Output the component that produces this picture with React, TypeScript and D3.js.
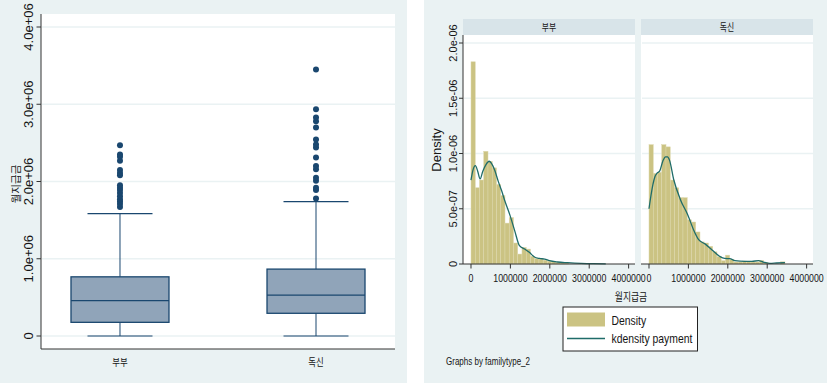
import React from 'react';
import * as d3 from 'd3';

// ---------- data ----------
const families = ['부부', '독신'];
const boxQ1 = [177000, 294000];
const boxMedian = [459000, 528000];
const boxQ3 = [766000, 866000];
const whiskerLow = [0, 0];
const whiskerHigh = [1584000, 1740000];
const outliersCouple = [1670000, 1710000, 1740000, 1770000, 1810000, 1850000, 1890000, 1920000, 1950000, 2080000, 2110000, 2150000, 2270000, 2320000, 2350000, 2470000];
const outliersSingle = [1780000, 1890000, 1920000, 2010000, 2050000, 2160000, 2200000, 2310000, 2440000, 2480000, 2545000, 2700000, 2780000, 2830000, 2935000, 3450000];
const boxTicks = [0, 1000000, 2000000, 3000000, 4000000];
const boxTickLabels = ['0', '1.0e+06', '2.0e+06', '3.0e+06', '4.0e+06'];

// histogram densities in units of 1e-6, bins of width histBinWidth starting at 0
const histBinWidth = 107800;
const histCouple = [1.83, 0.69, 0.76, 1.02, 0.93, 0.87, 0.72, 0.62, 0.37, 0.42, 0.19, 0.09, 0.15, 0.135, 0.07, 0.05, 0.045, 0.035, 0.025, 0.02, 0.015, 0.01, 0.008];
const histSingle = [1.08, 0.82, 0.83, 1.08, 1.06, 0.76, 0.69, 0.6, 0.6, 0.4, 0.38, 0.29, 0.2, 0.19, 0.16, 0.11, 0.066, 0.03, 0.08, 0.042, 0.018, 0.018, 0.027, 0.024, 0.018, 0.018, 0.033, 0.015, 0, 0, 0, 0.02];

// kernel density (x in won, y in units of 1e-6)
const kdeXCouple = [0, 50000, 110000, 170000, 230000, 300000, 380000, 460000, 520000, 600000, 690000, 780000, 860000, 990000, 1110000, 1230000, 1360000, 1480000, 1610000, 1740000, 1870000, 1990000, 2200000, 2450000, 2790000, 3100000, 3420000];
const kdeYCouple = [0.76, 0.85, 0.89, 0.84, 0.77, 0.84, 0.9, 0.93, 0.91, 0.85, 0.75, 0.66, 0.57, 0.44, 0.3, 0.166, 0.136, 0.106, 0.063, 0.05, 0.045, 0.03, 0.018, 0.012, 0.006, 0.003, 0.002];
const kdeXSingle = [0, 50000, 100000, 150000, 200000, 270000, 350000, 420000, 470000, 520000, 630000, 800000, 990000, 1130000, 1260000, 1430000, 1600000, 1790000, 1920000, 2050000, 2180000, 2440000, 2610000, 2780000, 2900000, 3070000, 3240000, 3450000];
const kdeYSingle = [0.5, 0.62, 0.72, 0.79, 0.82, 0.84, 0.93, 0.97, 0.97, 0.94, 0.76, 0.58, 0.44, 0.31, 0.22, 0.18, 0.127, 0.07, 0.05, 0.048, 0.03, 0.024, 0.024, 0.03, 0.018, 0.006, 0.009, 0.012];

const paymentTicks = [0, 1000000, 2000000, 3000000, 4000000];
const paymentTickLabels = ['0', '1000000', '2000000', '3000000', '4000000'];
const densityTicks = [0, 0.5, 1.0, 1.5, 2.0];
const densityTickLabels = ['0', '5.0e-07', '1.0e-06', '1.5e-06', '2.0e-06'];
const legendLabels = ['Density', 'kdensity payment'];

// ---------- styles ----------
const FONT = "'Liberation Sans', Arial, 'Noto Sans CJK KR', sans-serif";
const BG = '#eaf2f3';
const NAVY = '#1a476f';
const BOXFILL = '#90a4b9';
const KHAKI = '#cbc383';
const KHAKI_LINE = '#ddd8ad';
const TEAL = '#1f6c69';
const AXIS = '#333333';
const TXT = '#151515';

function HText({ x, y, size, children, anchor = 'middle', sx = 0.8 }: any) {
  return (
    <text transform={`translate(${x},${y}) scale(${sx},1)`} textAnchor={anchor} fontSize={size} fontFamily={FONT} fill={TXT}>
      {children}
    </text>
  );
}
function VText({ x, y, size, children }: any) {
  return (
    <text transform={`translate(${x},${y}) rotate(-90)`} textAnchor="middle" fontSize={size} fontFamily={FONT} fill={TXT}>
      {children}
    </text>
  );
}

export default function App() {
  // ---------- left: box plot ----------
  const L = { x0: 41, x1: 395, y0: 14, y1: 349 };
  const yBox = d3.scaleLinear().domain([0, 4000000]).range([336, 27]);
  const xBox = d3.scalePoint<string>().domain(families).range([L.x0, L.x1]).padding(0.403);
  const outliers = [outliersCouple, outliersSingle];
  const boxHalf = 49;
  const capHalf = 32.5;

  // ---------- right: histograms ----------
  const facetW = 172;
  const facetX = [463, 641];
  const R = { y0: 35, y1: 264, stripTop: 19 };
  const xh = d3.scaleLinear().domain([-203000, 4162000]).range([0, facetW]);
  const yh = d3.scaleLinear().domain([0, 2]).range([264, 43]);
  const facets = [
    { label: families[0], hist: histCouple, kx: kdeXCouple, ky: kdeYCouple },
    { label: families[1], hist: histSingle, kx: kdeXSingle, ky: kdeYSingle },
  ];

  return (
    <svg width={827} height={385} style={{ position: 'absolute', left: 0, top: 0, background: '#fff' }}>
      {/* backgrounds */}
      <rect x={0} y={0} width={407} height={383} fill={BG} />
      <rect x={424} y={0} width={403} height={383} fill={BG} />

      {/* ===== Left box plot ===== */}
      <rect x={L.x0} y={L.y0} width={L.x1 - L.x0} height={L.y1 - L.y0} fill="#fff" />
      {boxTicks.map((t) => (
        <line key={'g' + t} x1={L.x0 + 1} x2={L.x1} y1={yBox(t)} y2={yBox(t)} stroke={BG} strokeWidth={1.3} />
      ))}
      {families.map((f, i) => {
        const cx = xBox(f)!;
        return (
          <g key={f}>
            <line x1={cx} x2={cx} y1={yBox(boxQ3[i])} y2={yBox(whiskerHigh[i])} stroke={NAVY} strokeWidth={1} />
            <line x1={cx} x2={cx} y1={yBox(boxQ1[i])} y2={yBox(whiskerLow[i])} stroke={NAVY} strokeWidth={1} />
            <line x1={cx - capHalf} x2={cx + capHalf} y1={yBox(whiskerHigh[i])} y2={yBox(whiskerHigh[i])} stroke={NAVY} strokeWidth={1.2} />
            <line x1={cx - capHalf} x2={cx + capHalf} y1={yBox(whiskerLow[i])} y2={yBox(whiskerLow[i])} stroke={NAVY} strokeWidth={1.2} />
            <rect x={cx - boxHalf} y={yBox(boxQ3[i])} width={boxHalf * 2} height={yBox(boxQ1[i]) - yBox(boxQ3[i])} fill={BOXFILL} stroke={NAVY} strokeWidth={1.3} />
            <line x1={cx - boxHalf} x2={cx + boxHalf} y1={yBox(boxMedian[i])} y2={yBox(boxMedian[i])} stroke={NAVY} strokeWidth={1.3} />
            {outliers[i].map((v, j) => (
              <circle key={j} cx={cx} cy={yBox(v)} r={3} fill={NAVY} />
            ))}
            <HText x={cx} y={366} size={10.5}>{f}</HText>
          </g>
        );
      })}
      <line x1={L.x0} x2={L.x0} y1={L.y0} y2={L.y1} stroke={AXIS} strokeWidth={1} />
      <line x1={L.x0} x2={L.x1} y1={L.y1} y2={L.y1} stroke={AXIS} strokeWidth={1} />
      {boxTicks.map((t, i) => (
        <g key={'t' + t}>
          <line x1={L.x0 - 4.5} x2={L.x0} y1={yBox(t)} y2={yBox(t)} stroke={AXIS} strokeWidth={1} />
          <VText x={33} y={yBox(t)} size={13}>{boxTickLabels[i]}</VText>
        </g>
      ))}
      <VText x={19.5} y={184} size={10.5}>월지급금</VText>

      {/* ===== Right histograms ===== */}
      {facets.map((fc, k) => {
        const x0 = facetX[k];
        const line = d3
          .line<number>()
          .x((_, i) => x0 + xh(fc.kx[i]))
          .y((d) => yh(d))
          .curve(d3.curveMonotoneX);
        return (
          <g key={fc.label}>
            <rect x={x0} y={R.y0} width={facetW} height={R.y1 - R.y0} fill="#fff" />
            <rect x={x0} y={R.stripTop} width={facetW} height={R.y0 - R.stripTop} fill="#d8e4e9" />
            <HText x={x0 + facetW / 2} y={31} size={10} sx={0.78}>{fc.label}</HText>
            {densityTicks.filter((t) => t > 0).map((t) => (
              <line key={t} x1={x0 + 1} x2={x0 + facetW} y1={yh(t)} y2={yh(t)} stroke={BG} strokeWidth={1.3} />
            ))}
            {fc.hist.map((v, i) =>
              v > 0 ? (
                <rect
                  key={i}
                  x={x0 + xh(i * histBinWidth)}
                  y={yh(v)}
                  width={xh((i + 1) * histBinWidth) - xh(i * histBinWidth)}
                  height={yh(0) - yh(v)}
                  fill={KHAKI}
                  stroke={KHAKI_LINE}
                  strokeWidth={0.5}
                />
              ) : null
            )}
            <path d={line(fc.ky) || ''} fill="none" stroke={TEAL} strokeWidth={1.3} />
            <line x1={x0} x2={x0 + facetW} y1={R.y1} y2={R.y1} stroke={AXIS} strokeWidth={1} />
            {paymentTicks.map((t, i) => (
              <g key={'xt' + t}>
                <line x1={x0 + xh(t)} x2={x0 + xh(t)} y1={R.y1} y2={R.y1 + 4.5} stroke={AXIS} strokeWidth={1} />
                <HText x={x0 + xh(t)} y={281.5} size={11}>{paymentTickLabels[i]}</HText>
              </g>
            ))}
          </g>
        );
      })}
      <line x1={facetX[0]} x2={facetX[0]} y1={R.y0} y2={R.y1} stroke={AXIS} strokeWidth={1} />
      {densityTicks.map((t, i) => (
        <g key={'yt' + t}>
          <line x1={facetX[0] - 4} x2={facetX[0]} y1={yh(t)} y2={yh(t)} stroke={AXIS} strokeWidth={1} />
          <VText x={456.5} y={yh(t)} size={11}>{densityTickLabels[i]}</VText>
        </g>
      ))}
      <VText x={440.5} y={150} size={13}>Density</VText>
      <HText x={631} y={300.5} size={11}>월지급금</HText>

      {/* legend */}
      <rect x={563} y={307} width={134.5} height={44} fill="#fff" stroke="#222" strokeWidth={1} />
      <rect x={567} y={312.5} width={38} height={14} fill={KHAKI} />
      <line x1={567} x2={605} y1={338.5} y2={338.5} stroke={TEAL} strokeWidth={1.4} />
      <HText x={611.5} y={324.5} size={13} anchor="start">{legendLabels[0]}</HText>
      <HText x={611.5} y={342.5} size={13} anchor="start">{legendLabels[1]}</HText>

      <HText x={446} y={365} size={10} anchor="start">Graphs by familytype_2</HText>
    </svg>
  );
}
